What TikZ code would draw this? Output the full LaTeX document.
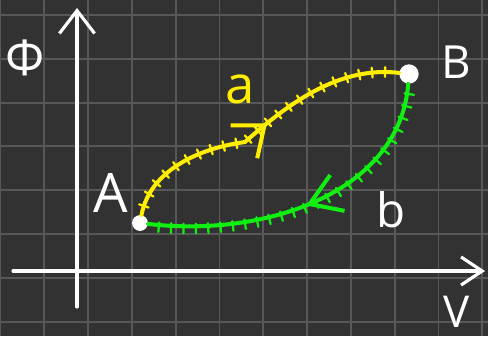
\documentclass[tikz,border=0pt]{standalone}
\usepackage{fontspec}
\setmainfont{Open Sans}
\usetikzlibrary{arrows.meta,decorations.markings}
\definecolor{board}{HTML}{323232}
\definecolor{gridgray}{HTML}{585858}
\definecolor{chalk}{HTML}{FFFFFF}
\definecolor{pathyel}{HTML}{FFEE00}
\definecolor{pathgrn}{HTML}{11EE11}
\tikzset{
  gridline/.style={draw=gridgray,line width=1.1pt},
  axisline/.style={draw=chalk,line width=1.8pt,line cap=round,
                   -{Straight Barb[length=13pt,width=20pt]}},
  statedot/.style={circle,fill=chalk,inner sep=0pt,minimum size=9pt},
  chalklabel/.style={text=chalk,inner sep=0pt,font=\fontsize{28}{28}\selectfont},
  pathline/.style={line width=2.3pt,line cap=round},
  yelpath/.style={pathline,draw=pathyel,
    postaction={decorate,decoration={markings,
      mark=between positions 0.03 and 0.98 step 7.4pt with
        {\draw[pathyel,line width=1.3pt] (0,-2.8pt) -- (0,2.8pt);},
      mark=at position 0.53 with
        {\arrow[pathyel]{Straight Barb[length=15pt,width=24pt]}}}}},
  grnpath/.style={pathline,draw=pathgrn,
    postaction={decorate,decoration={markings,
      mark=between positions 0.03 and 0.98 step 7pt with
        {\draw[pathgrn,line width=1.3pt] (0,-1.5pt) -- (0,4pt);},
      mark=at position 0.51 with
        {\arrow[pathgrn]{Straight Barb[length=17pt,width=22pt]}}}}}
}
\begin{document}
\begin{tikzpicture}[x=0.02cm,y=-0.02cm]
  \useasboundingbox (0,0) rectangle (488,336);
  \fill[board] (0,0) rectangle (488,336);

  % board grid
  \foreach \gx in {0,...,11} {
    \draw[gridline] (0.5+\gx*43.8,0) -- (0.5+\gx*43.8,336);
  }
  \foreach \gy in {0,...,7} {
    \draw[gridline] (0,15+\gy*43.8) -- (488,15+\gy*43.8);
  }

  \coordinate (yfoot) at (77,307);
  \coordinate (ytop) at (77,8);
  \coordinate (xleft) at (13,271);
  \coordinate (xright) at (485,271);
  \draw[axisline] (yfoot) -- (ytop);
  \draw[axisline,-{Straight Barb[length=12pt,width=16pt]}] (xleft) -- (xright);

  \node[statedot] (A) at (140,223) {};
  \node[statedot,minimum size=11pt] (B) at (409,74) {};

  \draw[yelpath] (A) .. controls (150,170) and (200,148) .. (245,142)
                 .. controls (290,102) and (340,66) .. (B);
  \draw[grnpath] (B) .. controls (400,190) and (270,238) .. (A);

  \node[chalklabel] (lblp) at (25,58) {Φ};
  \node[chalklabel,font=\fontsize{25}{25}\selectfont] (lblV) at (457,312) {V};
  \node[chalklabel,font=\fontsize{31}{31}\selectfont] (lblA) at (111,193) {A};
  \node[chalklabel,font=\fontsize{26}{26}\selectfont] (lblB) at (456,62) {B};
  \node[chalklabel,text=pathyel,font=\fontsize{30}{30}\selectfont] (lbla) at (240,89) {a};
  \node[chalklabel,font=\fontsize{27}{27}\selectfont] (lblb) at (391,210) {b};
\end{tikzpicture}
\end{document}
